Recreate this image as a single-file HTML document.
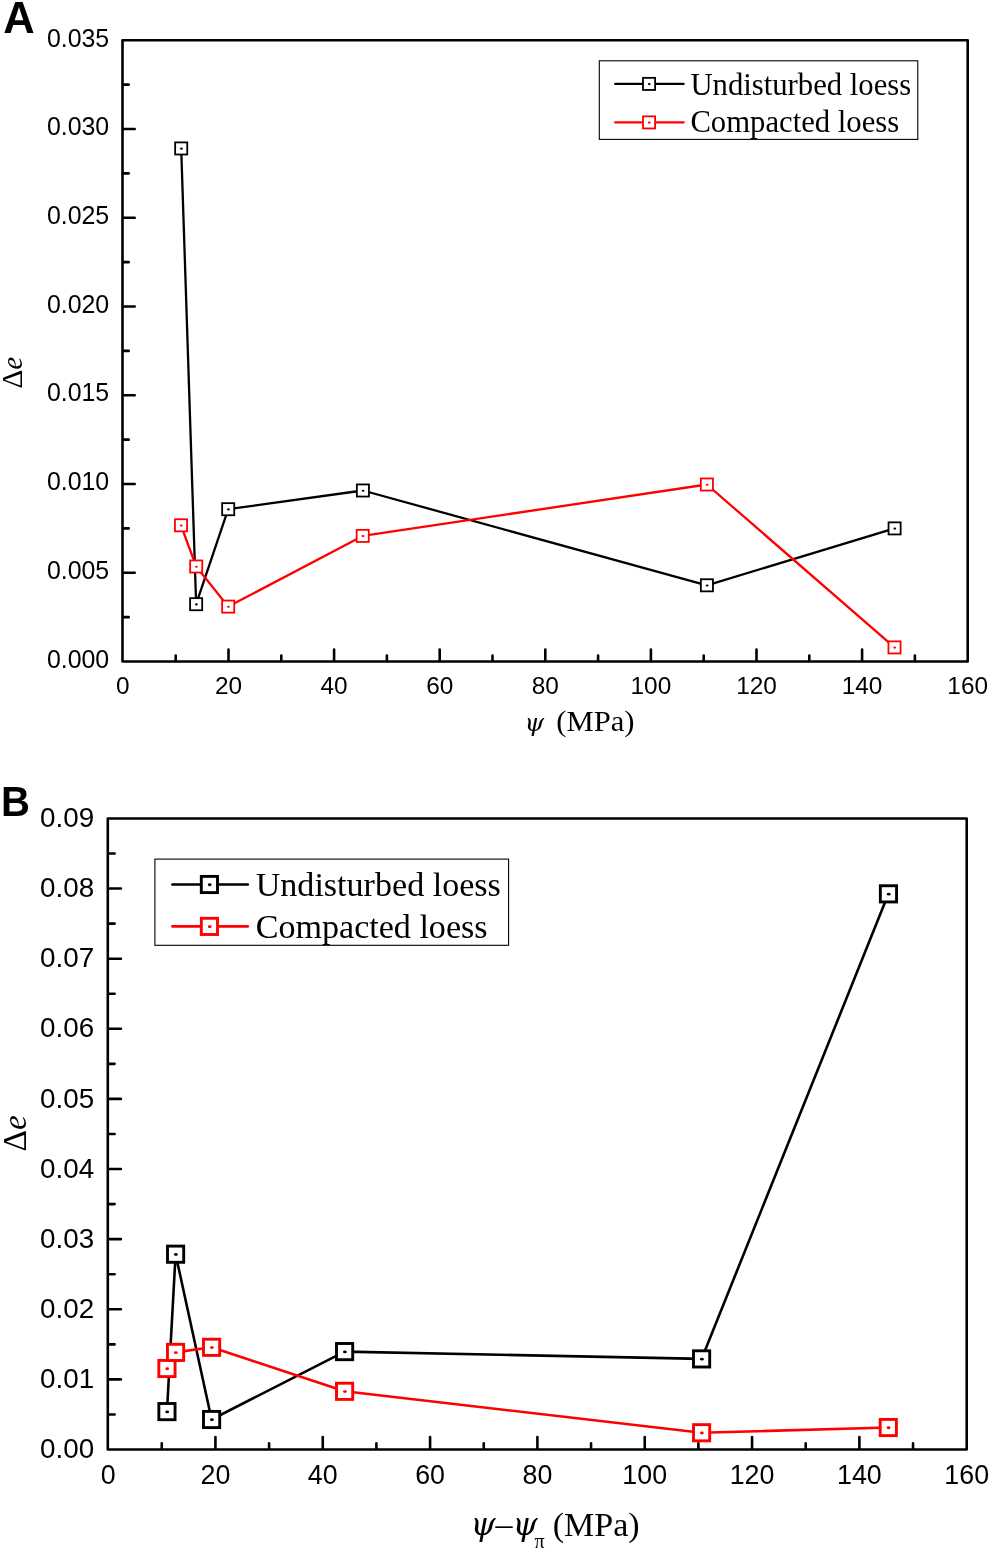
<!DOCTYPE html>
<html><head><meta charset="utf-8"><title>Figure</title>
<style>
html,body{margin:0;padding:0;background:#fff;}
svg{display:block;filter:blur(0.45px);}
.sans{font-family:"Liberation Sans",Arial,sans-serif;fill:#000;}
.serif{font-family:"Liberation Serif","Times New Roman",serif;fill:#000;}
.it{font-style:italic;}
.dj{font-family:"DejaVu Serif","Liberation Serif",serif;}
.b{font-weight:bold;}
</style></head><body>
<svg width="991" height="1550" viewBox="0 0 991 1550">
<rect x="0" y="0" width="991" height="1550" fill="#fff"/>
<!-- Panel A -->
<text class="sans b" font-size="43.5" x="3.2" y="32.7">A</text>
<g stroke="#000" stroke-width="2.6" fill="none" stroke-linecap="round" stroke-linejoin="round">
<rect x="122.5" y="40.3" width="845.2" height="621.2"/>
<path d="M175.7 660.5V655.5M228.5 660.5V649.5M281.3 660.5V655.5M334.1 660.5V649.5M386.9 660.5V655.5M439.7 660.5V649.5M492.5 660.5V655.5M545.3 660.5V649.5M598.1 660.5V655.5M650.9 660.5V649.5M703.7 660.5V655.5M756.5 660.5V649.5M809.3 660.5V655.5M862.1 660.5V649.5M914.9 660.5V655.5M123.5 572.76H134.7M123.5 484.01H134.7M123.5 395.27H134.7M123.5 306.53H134.7M123.5 217.79H134.7M123.5 129.04H134.7M123.5 617.13H128.7M123.5 528.39H128.7M123.5 439.64H128.7M123.5 350.9H128.7M123.5 262.16H128.7M123.5 173.41H128.7M123.5 84.67H128.7"/>
</g>
<g class="sans" font-size="24.9">
<text x="109.2" y="667.7" text-anchor="end">0.000</text>
<text x="109.2" y="578.96" text-anchor="end">0.005</text>
<text x="109.2" y="490.21" text-anchor="end">0.010</text>
<text x="109.2" y="401.47" text-anchor="end">0.015</text>
<text x="109.2" y="312.73" text-anchor="end">0.020</text>
<text x="109.2" y="223.99" text-anchor="end">0.025</text>
<text x="109.2" y="135.24" text-anchor="end">0.030</text>
<text x="109.2" y="46.5" text-anchor="end">0.035</text>
<text x="122.9" y="694.2" font-size="24.4" text-anchor="middle">0</text>
<text x="228.5" y="694.2" font-size="24.4" text-anchor="middle">20</text>
<text x="334.1" y="694.2" font-size="24.4" text-anchor="middle">40</text>
<text x="439.7" y="694.2" font-size="24.4" text-anchor="middle">60</text>
<text x="545.3" y="694.2" font-size="24.4" text-anchor="middle">80</text>
<text x="650.9" y="694.2" font-size="24.4" text-anchor="middle">100</text>
<text x="756.5" y="694.2" font-size="24.4" text-anchor="middle">120</text>
<text x="862.1" y="694.2" font-size="24.4" text-anchor="middle">140</text>
<text x="967.7" y="694.2" font-size="24.4" text-anchor="middle">160</text>
</g>
<g stroke="#000" fill="none">
<polyline stroke-width="2.3" stroke-linejoin="round" points="181.2,148.45 196.15,604.2 228.2,509.2 362.9,490.5 706.9,585.3 894.6,528.4"/>
<rect x="175.15" y="142.4" width="12.1" height="12.1" fill="#fff" stroke-width="1.8"/>
<ellipse cx="181.41" cy="148.66" rx="1.4" ry="1.05" fill="#000" stroke="none"/>
<rect x="190.1" y="598.15" width="12.1" height="12.1" fill="#fff" stroke-width="1.8"/>
<ellipse cx="196.36" cy="604.41" rx="1.4" ry="1.05" fill="#000" stroke="none"/>
<rect x="222.15" y="503.15" width="12.1" height="12.1" fill="#fff" stroke-width="1.8"/>
<ellipse cx="228.41" cy="509.41" rx="1.4" ry="1.05" fill="#000" stroke="none"/>
<rect x="356.85" y="484.45" width="12.1" height="12.1" fill="#fff" stroke-width="1.8"/>
<ellipse cx="363.11" cy="490.71" rx="1.4" ry="1.05" fill="#000" stroke="none"/>
<rect x="700.85" y="579.25" width="12.1" height="12.1" fill="#fff" stroke-width="1.8"/>
<ellipse cx="707.11" cy="585.51" rx="1.4" ry="1.05" fill="#000" stroke="none"/>
<rect x="888.55" y="522.35" width="12.1" height="12.1" fill="#fff" stroke-width="1.8"/>
<ellipse cx="894.81" cy="528.61" rx="1.4" ry="1.05" fill="#000" stroke="none"/>
</g>
<g stroke="#f00" fill="none">
<polyline stroke-width="2.3" stroke-linejoin="round" points="181,525.3 196.2,566.5 228.2,606.6 362.7,535.9 706.9,484.5 894.5,647.4"/>
<rect x="174.95" y="519.25" width="12.1" height="12.1" fill="#fff" stroke-width="1.8"/>
<ellipse cx="181.21" cy="525.51" rx="1.4" ry="1.05" fill="#f00" stroke="none"/>
<rect x="190.15" y="560.45" width="12.1" height="12.1" fill="#fff" stroke-width="1.8"/>
<ellipse cx="196.41" cy="566.71" rx="1.4" ry="1.05" fill="#f00" stroke="none"/>
<rect x="222.15" y="600.55" width="12.1" height="12.1" fill="#fff" stroke-width="1.8"/>
<ellipse cx="228.41" cy="606.81" rx="1.4" ry="1.05" fill="#f00" stroke="none"/>
<rect x="356.65" y="529.85" width="12.1" height="12.1" fill="#fff" stroke-width="1.8"/>
<ellipse cx="362.91" cy="536.11" rx="1.4" ry="1.05" fill="#f00" stroke="none"/>
<rect x="700.85" y="478.45" width="12.1" height="12.1" fill="#fff" stroke-width="1.8"/>
<ellipse cx="707.11" cy="484.71" rx="1.4" ry="1.05" fill="#f00" stroke="none"/>
<rect x="888.45" y="641.35" width="12.1" height="12.1" fill="#fff" stroke-width="1.8"/>
<ellipse cx="894.71" cy="647.61" rx="1.4" ry="1.05" fill="#f00" stroke="none"/>
</g>
<rect x="599.3" y="60.8" width="318.5" height="78.6" fill="#fff" stroke="#000" stroke-width="1.1"/>
<g stroke="#000" fill="none"><path stroke-width="2.3" stroke-linecap="round" d="M615.2 83.9H683.6"/>
<rect x="643" y="77.85" width="12.1" height="12.1" fill="#fff" stroke-width="1.8"/>
<ellipse cx="649.26" cy="84.11" rx="1.4" ry="1.05" fill="#000" stroke="none"/></g>
<g stroke="#f00" fill="none"><path stroke-width="2.3" stroke-linecap="round" d="M615.2 122.4H683.6"/>
<rect x="643" y="116.35" width="12.1" height="12.1" fill="#fff" stroke-width="1.8"/>
<ellipse cx="649.26" cy="122.61" rx="1.4" ry="1.05" fill="#f00" stroke="none"/></g>
<g class="serif" font-size="30.7"><text x="690.4" y="94.6">Undisturbed loess</text><text x="690.4" y="132.4">Compacted loess</text></g>
<text class="serif" font-size="29.3" transform="translate(22.4 388.5) rotate(-90)">Δ<tspan class="it">e</tspan></text>
<g class="serif" font-size="30.6"><text class="dj it" font-size="25" x="524.4" y="730.6">ψ</text><text font-size="29.8" transform="translate(556.3 730.5) scale(1.027 1)">(MPa)</text></g>
<!-- Panel B -->
<text class="sans b" font-size="43.4" transform="translate(1.1 816.3) scale(0.925 1)">B</text>
<g stroke="#000" stroke-width="2.6" fill="none" stroke-linecap="round" stroke-linejoin="round">
<rect x="107.8" y="818.45" width="858.9" height="631.05"/>
<path d="M161.76 1448.5V1443.4M215.43 1448.5V1437.1M269.09 1448.5V1443.4M322.75 1448.5V1437.1M376.41 1448.5V1443.4M430.08 1448.5V1437.1M483.74 1448.5V1443.4M537.4 1448.5V1437.1M591.06 1448.5V1443.4M644.73 1448.5V1437.1M698.39 1448.5V1443.4M752.05 1448.5V1437.1M805.71 1448.5V1443.4M859.38 1448.5V1437.1M913.04 1448.5V1443.4M108.8 1379.38H120.9M108.8 1309.27H120.9M108.8 1239.15H120.9M108.8 1169.03H120.9M108.8 1098.92H120.9M108.8 1028.8H120.9M108.8 958.68H120.9M108.8 888.57H120.9M108.8 1414.44H114.6M108.8 1344.33H114.6M108.8 1274.21H114.6M108.8 1204.09H114.6M108.8 1133.97H114.6M108.8 1063.86H114.6M108.8 993.74H114.6M108.8 923.62H114.6M108.8 853.51H114.6"/>
</g>
<g class="sans" font-size="27.8">
<text x="94.2" y="1458.1" text-anchor="end">0.00</text>
<text x="94.2" y="1387.98" text-anchor="end">0.01</text>
<text x="94.2" y="1317.87" text-anchor="end">0.02</text>
<text x="94.2" y="1247.75" text-anchor="end">0.03</text>
<text x="94.2" y="1177.63" text-anchor="end">0.04</text>
<text x="94.2" y="1107.52" text-anchor="end">0.05</text>
<text x="94.2" y="1037.4" text-anchor="end">0.06</text>
<text x="94.2" y="967.28" text-anchor="end">0.07</text>
<text x="94.2" y="897.17" text-anchor="end">0.08</text>
<text x="94.2" y="827.05" text-anchor="end">0.09</text>
<text x="108.1" y="1484.4" font-size="26.8" text-anchor="middle">0</text>
<text x="215.43" y="1484.4" font-size="26.8" text-anchor="middle">20</text>
<text x="322.75" y="1484.4" font-size="26.8" text-anchor="middle">40</text>
<text x="430.08" y="1484.4" font-size="26.8" text-anchor="middle">60</text>
<text x="537.4" y="1484.4" font-size="26.8" text-anchor="middle">80</text>
<text x="644.73" y="1484.4" font-size="26.8" text-anchor="middle">100</text>
<text x="752.05" y="1484.4" font-size="26.8" text-anchor="middle">120</text>
<text x="859.38" y="1484.4" font-size="26.8" text-anchor="middle">140</text>
<text x="966.7" y="1484.4" font-size="26.8" text-anchor="middle">160</text>
</g>
<g stroke="#000" fill="none">
<polyline stroke-width="2.6" stroke-linejoin="round" points="166.95,1411.6 175.6,1254.2 211.6,1419.5 344.6,1351.6 701.6,1358.9 888.45,893.85"/>
<rect x="158.85" y="1403.5" width="16.2" height="16.2" fill="#fff" stroke-width="2.9"/>
<ellipse cx="167.23" cy="1411.88" rx="1.9" ry="1.42" fill="#000" stroke="none"/>
<rect x="167.5" y="1246.1" width="16.2" height="16.2" fill="#fff" stroke-width="2.9"/>
<ellipse cx="175.88" cy="1254.49" rx="1.9" ry="1.42" fill="#000" stroke="none"/>
<rect x="203.5" y="1411.4" width="16.2" height="16.2" fill="#fff" stroke-width="2.9"/>
<ellipse cx="211.88" cy="1419.79" rx="1.9" ry="1.42" fill="#000" stroke="none"/>
<rect x="336.5" y="1343.5" width="16.2" height="16.2" fill="#fff" stroke-width="2.9"/>
<ellipse cx="344.89" cy="1351.88" rx="1.9" ry="1.42" fill="#000" stroke="none"/>
<rect x="693.5" y="1350.8" width="16.2" height="16.2" fill="#fff" stroke-width="2.9"/>
<ellipse cx="701.88" cy="1359.19" rx="1.9" ry="1.42" fill="#000" stroke="none"/>
<rect x="880.35" y="885.75" width="16.2" height="16.2" fill="#fff" stroke-width="2.9"/>
<ellipse cx="888.74" cy="894.13" rx="1.9" ry="1.42" fill="#000" stroke="none"/>
</g>
<g stroke="#f00" fill="none">
<polyline stroke-width="2.6" stroke-linejoin="round" points="166.95,1368.5 175.55,1352.4 211.6,1347.3 344.6,1391.3 701.6,1432.75 888.3,1427.5"/>
<rect x="158.85" y="1360.4" width="16.2" height="16.2" fill="#fff" stroke-width="2.9"/>
<ellipse cx="167.23" cy="1368.79" rx="1.9" ry="1.42" fill="#f00" stroke="none"/>
<rect x="167.45" y="1344.3" width="16.2" height="16.2" fill="#fff" stroke-width="2.9"/>
<ellipse cx="175.84" cy="1352.69" rx="1.9" ry="1.42" fill="#f00" stroke="none"/>
<rect x="203.5" y="1339.2" width="16.2" height="16.2" fill="#fff" stroke-width="2.9"/>
<ellipse cx="211.88" cy="1347.59" rx="1.9" ry="1.42" fill="#f00" stroke="none"/>
<rect x="336.5" y="1383.2" width="16.2" height="16.2" fill="#fff" stroke-width="2.9"/>
<ellipse cx="344.89" cy="1391.59" rx="1.9" ry="1.42" fill="#f00" stroke="none"/>
<rect x="693.5" y="1424.65" width="16.2" height="16.2" fill="#fff" stroke-width="2.9"/>
<ellipse cx="701.88" cy="1433.04" rx="1.9" ry="1.42" fill="#f00" stroke="none"/>
<rect x="880.2" y="1419.4" width="16.2" height="16.2" fill="#fff" stroke-width="2.9"/>
<ellipse cx="888.58" cy="1427.79" rx="1.9" ry="1.42" fill="#f00" stroke="none"/>
</g>
<rect x="154.9" y="859.1" width="353.7" height="86.2" fill="#fff" stroke="#000" stroke-width="1.1"/>
<g stroke="#000" fill="none"><path stroke-width="2.6" stroke-linecap="round" d="M172.4 884.5H247.8"/>
<rect x="201.3" y="876.4" width="16.2" height="16.2" fill="#fff" stroke-width="2.9"/>
<ellipse cx="209.69" cy="884.78" rx="1.9" ry="1.42" fill="#000" stroke="none"/></g>
<g stroke="#f00" fill="none"><path stroke-width="2.6" stroke-linecap="round" d="M172.4 926.4H247.8"/>
<rect x="201.3" y="918.3" width="16.2" height="16.2" fill="#fff" stroke-width="2.9"/>
<ellipse cx="209.69" cy="926.68" rx="1.9" ry="1.42" fill="#f00" stroke="none"/></g>
<g class="serif" font-size="34.1"><text x="255.7" y="895.6">Undisturbed loess</text><text x="255.7" y="937.8">Compacted loess</text></g>
<text class="serif" font-size="33.5" transform="translate(26 1151.6) rotate(-90)">Δ<tspan class="it">e</tspan></text>
<g class="serif" font-size="34">
<text class="dj it" font-size="32" x="470.4" y="1535.2">ψ</text>
<text x="495.4" y="1535.2">–</text>
<text class="dj it" font-size="32" x="512.4" y="1535.2">ψ</text>
<text font-size="20" x="534.6" y="1547.9">π</text>
<text x="552.8" y="1535.7">(MPa)</text>
</g>
</svg></body></html>
